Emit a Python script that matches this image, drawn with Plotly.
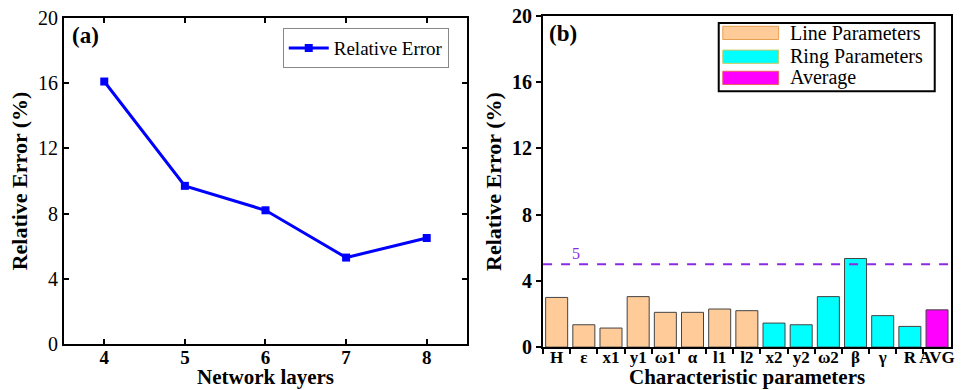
import plotly.graph_objects as go
from plotly.subplots import make_subplots

# Panel (a) data
layers = [4, 5, 6, 7, 8]
rel_err_layers = [16.1, 9.7, 8.2, 5.3, 6.5]

# Panel (b) data
line_params = ["H", "ε", "x1", "y1", "ω1", "α", "l1", "l2"]
line_errors = [3.0, 1.35, 1.15, 3.05, 2.1, 2.1, 2.3, 2.2]
ring_params = ["x2", "y2", "ω2", "β", "γ", "R"]
ring_errors = [1.45, 1.35, 3.05, 5.35, 1.9, 1.25]
avg_params = ["AVG"]
avg_errors = [2.25]
threshold = 5

y_ticks = [0, 4, 8, 12, 16, 20]

FONT = "Liberation Serif, Times New Roman, serif"
LINE_COLOR = "#FFCC99"
RING_COLOR = "#00FFFF"
AVG_COLOR = "#FF00FF"

fig = make_subplots(rows=1, cols=2)

fig.add_trace(go.Scatter(
    x=layers, y=rel_err_layers, mode="lines+markers",
    name="Relative Error",
    line=dict(color="#0000FF", width=3),
    marker=dict(symbol="square", size=8, color="#0000FF"),
    showlegend=True,
), row=1, col=1)

bar_line = dict(color="#444444", width=1)
fig.add_trace(go.Bar(x=line_params, y=line_errors, name="Line Parameters",
                     marker=dict(color=LINE_COLOR, line=bar_line), showlegend=False),
              row=1, col=2)
fig.add_trace(go.Bar(x=ring_params, y=ring_errors, name="Ring Parameters",
                     marker=dict(color=RING_COLOR, line=bar_line), showlegend=False),
              row=1, col=2)
fig.add_trace(go.Bar(x=avg_params, y=avg_errors, name="Average",
                     marker=dict(color=AVG_COLOR, line=bar_line), showlegend=False),
              row=1, col=2)

axis_common = dict(showline=True, linecolor="black", linewidth=2, showgrid=False,
                   zeroline=False, ticklen=5, tickwidth=1.5, tickcolor="black",
                   automargin=False)
title_font = dict(family=FONT, size=21, color="black")

fig.update_xaxes(domain=[0.0656, 0.479], range=[3.5, 8.5], tickvals=layers,
                 ticks="inside", mirror="allticks", tickangle=0, ticklabelstandoff=-5,
                 tickfont=dict(family=FONT, size=19, color="black", weight="bold"),
                 **axis_common, row=1, col=1)
fig.update_yaxes(domain=[0.118, 0.954], range=[0, 20], tickvals=y_ticks,
                 ticks="inside", mirror="allticks",
                 tickfont=dict(family=FONT, size=20, color="black"),
                 title=dict(text="<b>Relative Error (%)</b>", font=dict(family=FONT, size=22, color="black"),
                            standoff=4),
                 **axis_common, row=1, col=1)

fig.update_xaxes(domain=[0.557, 0.975], categoryorder="array",
                 categoryarray=line_params + ring_params + avg_params,
                 ticks="outside", tickson="boundaries", mirror=True, tickangle=0,
                 ticklabelstandoff=-7,
                 tickfont=dict(family=FONT, size=17, color="black", weight="bold"),
                 **axis_common, row=1, col=2)
fig.update_yaxes(domain=[0.11, 0.959], range=[0, 20], tickvals=y_ticks,
                 ticks="outside", mirror=True,
                 tickfont=dict(family=FONT, size=20, color="black", weight="bold"),
                 title=dict(text="<b>Relative Error (%)</b>", font=dict(family=FONT, size=22, color="black"),
                            standoff=4),
                 **axis_common, row=1, col=2)

# X-axis titles placed just beneath the tick labels
fig.add_annotation(xref="x domain", yref="paper", x=0.5, y=0.0, text="<b>Network layers</b>",
                   showarrow=False, xanchor="center", yanchor="bottom", font=title_font, borderpad=0)
fig.add_annotation(xref="x2 domain", yref="paper", x=0.5, y=0.0, text="<b>Characteristic parameters</b>",
                   showarrow=False, xanchor="center", yanchor="bottom", font=title_font, borderpad=0)

# Threshold line
fig.add_shape(type="line", xref="x2 domain", yref="y2", x0=0, x1=1, y0=threshold, y1=threshold,
              line=dict(color="#8A2BE2", width=2, dash="dash"))
fig.add_annotation(xref="x2 domain", yref="y2", x=0.065, y=threshold, text=str(threshold),
                   showarrow=False, yanchor="bottom", yshift=0,
                   font=dict(family=FONT, size=16, color="#8A2BE2"))

# Panel labels
fig.add_annotation(xref="x domain", yref="y domain", x=0.015, y=0.99, text="<b>(a)</b>",
                   showarrow=False, xanchor="left", yanchor="top",
                   font=dict(family=FONT, size=23, color="black"))
fig.add_annotation(xref="x2 domain", yref="y2 domain", x=0.01, y=0.99, text="<b>(b)</b>",
                   showarrow=False, xanchor="left", yanchor="top",
                   font=dict(family=FONT, size=23, color="black"))

# Custom legend for panel (b)
fig.add_shape(type="rect", xref="x2 domain", yref="y2 domain", x0=0.431, x1=0.961, y0=0.773, y1=0.979,
              line=dict(color="black", width=2), fillcolor="white")
legend_rows = [("Line Parameters", LINE_COLOR, "#E8A050", 0.949),
               ("Ring Parameters", RING_COLOR, "#C8C860", 0.877),
               ("Average", AVG_COLOR, "#E86060", 0.813)]
for label, fill, edge, yc in legend_rows:
    fig.add_shape(type="rect", xref="x2 domain", yref="y2 domain", x0=0.441, x1=0.578,
                  y0=yc - 0.02, y1=yc + 0.02, line=dict(color=edge, width=1), fillcolor=fill)
    fig.add_annotation(xref="x2 domain", yref="y2 domain", x=0.60, y=yc, text=label,
                       showarrow=False, xanchor="left", yanchor="middle",
                       font=dict(family=FONT, size=20, color="black"))

fig.update_layout(
    width=975, height=390,
    margin=dict(l=0, r=0, t=0, b=0, autoexpand=False),
    paper_bgcolor="white", plot_bgcolor="white",
    bargap=0.19,
    font=dict(family=FONT, color="black"),
    legend=dict(x=0.290, y=0.928, xanchor="left", yanchor="top",
                bordercolor="#888888", borderwidth=1, bgcolor="white",
                font=dict(family=FONT, size=19, color="black"),
                itemwidth=40, tracegroupgap=0),
)

fig.write_html("out.html", config={"displayModeBar": False},
               post_script="document.body.style.margin='0';document.body.style.overflow='hidden';")
